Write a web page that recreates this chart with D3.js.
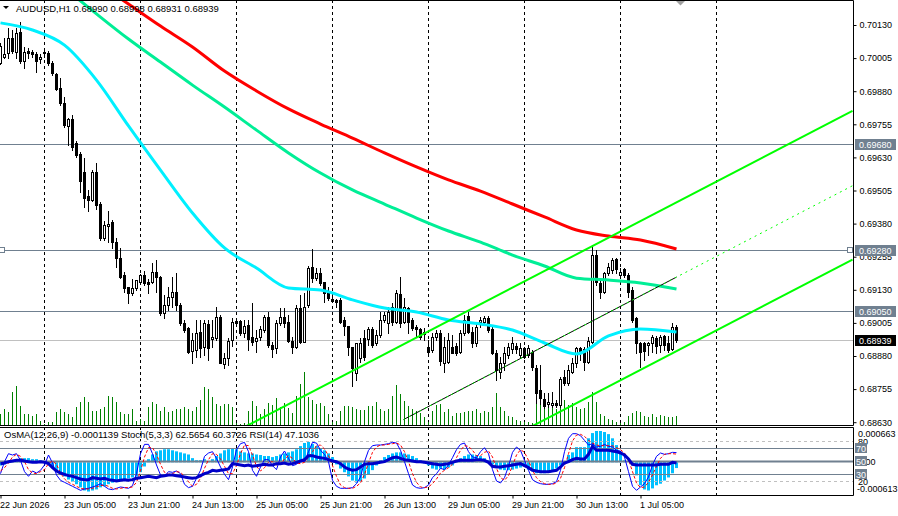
<!DOCTYPE html>
<html>
<head>
<meta charset="utf-8">
<script src="https://cdn.jsdelivr.net/npm/d3@7"></script>
<style>
  body { margin: 0; background: #fff; }
  svg text { font-family: "Liberation Sans", Arial, sans-serif; font-size: 9px; fill: #000; }
</style>
</head>
<body>
<div id="chart"></div>
<script>
// AUDUSD H1, prices in points (1e-5), bar 0 = 22 Jun 13:00
const ohlc = [
  [69987,70062,69983,70051],[70009,70081,70005,70020],[70024,70119,70005,70081],[70081,70111,70024,70032],
  [70028,70119,70005,70100],[70104,70141,69987,69994],[69994,70047,69968,70028],[70032,70043,70005,70024],
  [70028,70036,70009,70020],[70020,70028,69952,69994],[70002,70020,69987,70009],[70028,70043,70009,70024],
  [70024,70032,69979,69987],[69987,69994,69941,69949],[69945,69949,69885,69888],[69892,69930,69828,69836],
  [69836,69858,69745,69752],[69749,69779,69677,69775],[69775,69790,69658,69669],[69684,69692,69632,69639],
  [69643,69650,69499,69541],[69575,69628,69443,69477],[69484,69507,69428,69469],[69469,69582,69465,69575],
  [69575,69609,69435,69450],[69454,69462,69318,69326],[69326,69390,69318,69375],[69371,69428,69311,69379],
  [69386,69394,69288,69311],[69311,69326,69216,69250],[69250,69288,69174,69178],[69186,69197,69122,69137],
  [69141,69141,69080,69118],[69118,69171,69110,69137],[69137,69167,69129,69167],[69160,69190,69152,69186],
  [69186,69201,69148,69156],[69160,69171,69118,69152],[69160,69231,69156,69197],[69197,69243,69122,69178],
  [69178,69182,69035,69042],[69042,69110,69024,69073],[69073,69141,69054,69103],[69103,69178,69065,69122],
  [69122,69194,69054,69073],[69073,69080,68997,69005],[69005,69016,68971,68978],[68986,68990,68891,68895],
  [68899,68967,68854,68941],[68903,69016,68876,68967],[68971,69016,68876,68910],[68914,69016,68884,69005],
  [69001,69016,68865,68910],[68944,69016,68914,68952],[68948,69065,68941,69027],[69027,69035,68854,68854],
  [68850,68891,68835,68873],[68873,68948,68846,68937],[68941,69024,68918,69009],[69012,69020,69005,69005],
  [69012,69016,68960,68967],[68967,69016,68952,68993],[68997,69016,68903,68944],[68952,69080,68922,68933],
  [68937,68978,68895,68948],[68952,68993,68941,68982],[68978,69035,68971,69027],[69027,69046,68914,68922],
  [68922,68933,68876,68907],[68910,69016,68891,69005],[69005,69061,68997,69027],[69027,69061,68990,69005],
  [69009,69035,68933,68937],[68937,68952,68891,68914],[68914,69073,68910,69061],[69061,69110,68929,68933],
  [68933,69118,68933,69065],[69073,69220,69065,69212],[69216,69284,69160,69174],[69174,69212,69167,69194],
  [69194,69212,69148,69156],[69160,69160,69084,69118],[69126,69141,69092,69099],[69095,69103,69084,69088],
  [69092,69095,69065,69084],[69092,69099,69005,69009],[69016,69027,68960,68993],[68993,68993,68884,68914],
  [68914,68914,68767,68835],[68816,68929,68789,68929],[68873,68948,68857,68929],[68948,68978,68865,68876],
  [68944,68990,68922,68982],[68982,68990,68914,68922],[68929,68978,68922,68960],[68960,69046,68952,69016],
  [69016,69046,69009,69035],[69005,69065,68967,69046],[69065,69080,68997,69009],[69009,69129,69005,69118],
  [69114,69178,68990,69005],[69009,69099,69005,69065],[69061,69065,68967,69009],[69016,69024,68978,68986],
  [68990,68997,68952,68982],[68982,68986,68944,68952],[68971,68986,68941,68963],[68914,68941,68891,68895],
  [68903,68967,68895,68952],[68952,68978,68941,68967],[68967,68978,68846,68861],[68854,68952,68820,68914],
  [68857,68967,68854,68941],[68914,68960,68891,68891],[68918,68929,68884,68891],[68895,68978,68891,68967],
  [68967,69035,68960,69016],[69031,69046,68967,68971],[68971,68990,68914,68929],[68929,69005,68918,68990],
  [69009,69027,68990,69016],[69009,69031,69005,69024],[69024,69031,68971,68978],[68982,68990,68888,68891],
  [68891,68903,68789,68827],[68820,68876,68797,68854],[68854,68914,68827,68891],[68884,68929,68873,68914],
  [68907,68952,68891,68929],[68918,68929,68891,68907],[68884,68929,68873,68910],[68910,68914,68873,68876],
  [68884,68922,68876,68910],[68895,68903,68827,68839],[68835,68846,68703,68740],[68752,68846,68699,68721],
  [68718,68740,68684,68691],[68699,68740,68688,68707],[68695,68744,68688,68703],[68703,68714,68688,68695],
  [68695,68801,68688,68793],[68801,68827,68771,68778],[68778,68846,68771,68827],[68820,68873,68816,68854],
  [68854,68914,68839,68910],[68910,68914,68865,68891],[68907,68914,68827,68857],[68857,68952,68854,68937],
  [68933,69299,68929,69261],[69261,69280,69148,69160],[69156,69167,69099,69122],[69122,69197,69118,69194],
  [69194,69231,69186,69216],[69205,69250,69194,69243],[69246,69250,69194,69209],[69186,69212,69178,69197],
  [69209,69212,69178,69186],[69186,69194,69103,69122],[69129,69141,69009,69016],[69024,69027,68891,68929],
  [68929,68933,68839,68895],[68929,68933,68865,68899],[68922,68933,68884,68929],[68929,68960,68895,68952],
  [68948,68956,68891,68918],[68922,68960,68895,68952],[68956,68960,68903,68922],[68929,68956,68895,68903],
  [68907,69005,68903,68990],[68990,68998,68931,68939]
];

const volume = [
  110,160,130,330,390,190,110,110,90,110, 40,10,30,30,130,160,130,110,80,180,
  230,280,230,140,140,160,180,290,280,230, 130,110,110,160,40,60,40,180,230,210,
  140,180,130,140,160,160,180,160,140,180, 250,380,360,280,210,190,210,210,180,20,
  10,20,140,240,190,110,160,220,200,270, 180,220,170,120,290,410,530,280,250,210,
  220,190,110,30,40,140,190,190,180,160, 150,150,190,190,230,160,140,160,290,400,
  310,240,190,160,140,120,80,30,140,200, 210,130,160,90,120,120,130,140,140,160,
  120,140,130,180,320,180,140,90,80,50, 40,30,30,20,210,240,260,220,180,160,
  280,250,200,220,180,160,170,230,330,230, 110,90,60,50,30,20,30,90,120,140,
  130,90,80,110,80,100,90,80,80,90
];

// moving averages sampled every 8 bars
const maBars = [0,8,16,24,32,40,48,56,64,72,80,88,96,104,112,120,128,136,144,152,160,169];
const maCyan = [70138,70111,70054,69922,69749,69582,69420,69288,69212,69137,69129,69092,69061,69046,69016,69001,68978,68929,68888,68956,68982,68971];
const maGreen = [null,null,70270,70172,70077,69990,69903,69820,69733,69647,69571,69507,69454,69401,69352,69310,69261,69220,69174,69167,69156,69133];
const maRed = [null,null,null,70292,70209,70126,70047,69956,69881,69813,69756,69703,69647,69594,69545,69503,69454,69405,69356,69333,69318,69284];

// equidistant channel [bar, price]
const chanUpper = [[60, 68604], [213, 69806]];
const chanLower = [[130, 68592], [213, 69244]];
const chanMid = [[100.75, 68640], [169, 69178]];
const chanMidExt = [[169, 69178], [213, 69523]];

const hLevels = [69680, 69280, 69050];
const lastPrice = 68939;

const priceTicks = d3.range(68630, 70131, 125);
const timeBars = [0,16,32,48,64,80,96,112,128,144,160];
const timeLabels = ["22 Jun 2026","23 Jun 05:00","23 Jun 21:00","24 Jun 13:00","25 Jun 05:00","25 Jun 21:00",
                    "26 Jun 13:00","29 Jun 05:00","29 Jun 21:00","30 Jun 13:00","1 Jul 05:00"];
const dayBars = [11,35,59,83,107,131,155,179];

// OsMA in 1e-5 units
const osma = [
  -6,-4,0,4,6,8,8,8,6,6, 4,2,-4,-10,-15,-21,-27,-33,-37,-42,
  -48,-54,-56,-54,-52,-48,-46,-42,-39,-37, -35,-33,-31,-29,-27,-19,-8,6,15,21,
  23,25,25,23,21,19,17,15,8,4, 4,6,2,6,12,17,23,25,27,25,
  21,19,17,17,15,14,12,12,10,12, 15,17,19,21,25,31,37,39,35,31,
  27,23,17,10,-4,-12,-19,-27,-35,-39, -37,-31,-23,-15,-6,4,10,14,17,19,
  19,17,15,12,8,4,-2,-6,-12,-14, -12,-14,-10,-6,2,8,12,15,15,14,
  12,8,4,-4,-10,-14,-15,-15,-14,-12, -10,-8,-14,-17,-21,-21,-21,-19,-17,-12,
  -6,-2,14,19,29,29,29,46,56,60, 60,58,54,46,33,17,4,0,-6,-25,
  -44,-52,-54,-50,-44,-41,-35,-29,-21,-11
];
const stochMain = [
  31,49,61,59,61,51,34,27,35,32, 36,44,59,47,29,21,18,15,12,9,
  6,8,9,11,13,16,12,8,7,9, 11,10,9,13,31,61,75,75,61,44,
  29,27,34,33,35,31,15,10,12,24, 36,57,62,64,54,41,30,22,41,67,
  76,78,64,36,27,41,52,52,43,37, 56,65,54,43,45,51,49,64,78,77,
  66,60,49,21,12,9,9,9,10,16, 26,49,66,73,74,74,75,76,78,77,
  66,49,31,14,10,9,10,14,25,31, 39,37,44,55,67,75,77,64,56,55,
  64,70,61,37,20,17,25,42,63,71, 66,51,36,22,18,16,15,15,16,19,
  36,64,84,91,91,88,81,74,76,71, 72,75,72,71,66,65,56,34,12,6,
  11,16,26,44,57,62,60,61,63,62.57
];
const stochSignal = [
  35,40,47,56,60,57,49,37,32,31, 34,37,46,50,45,32,23,18,15,12,
  9,8,8,9,11,13,14,12,9,8, 9,10,10,11,18,35,56,70,70,60,
  45,33,30,31,34,33,27,19,12,15, 24,39,52,61,60,53,42,31,31,43,
  61,74,73,59,42,35,40,48,49,44, 45,53,58,54,47,46,48,55,64,73,
  74,68,58,43,27,14,10,9,9,12, 17,30,47,63,71,74,74,75,76,77,
  74,64,49,31,18,11,10,11,16,23, 32,36,40,45,55,66,73,72,66,58,
  58,63,65,56,39,25,21,28,43,59, 67,63,51,36,25,19,16,15,15,17,
  24,40,61,80,89,90,87,81,77,74, 73,73,73,73,70,67,62,52,34,17,
  10,11,18,29,42,54,60,61,61,60.37
];
const rsi = [
  46,47,49,50,51,51,50,49,48,48, 49,48,46,40,35,32,30,28,27,25,
  23,22,22,25,24,23,24,22,21,20, 21,22,21,22,24,25,26,27,26,25,
  27,28,29,29,28,27,26,25,24,25, 28,31,33,36,35,36,37,38,46,45,
  44,43,44,42,43,44,45,44,44,46, 46,47,45,46,48,50,52,58,58,56,
  55,54,52,50,49,46,41,38,36,37, 41,45,46,46,47,48,49,52,55,56,
  54,52,51,50,49,49,48,47,46,45, 44,45,46,48,50,51,51,51,51,52,
  52,51,48,42,41,41,42,43,44,45, 46,43,40,36,35,34,34,34,35,36,
  41,47,49,52,54,53,53,60,72,66, 66,66,66,65,64,62,59,53,45,44,
  44,44,44,44,44,45,45,45,48,47.1
];
const oscLevels = [80, 70, 50, 30, 20];

const width = 898, height = 516;
const plotR = 853, mainB = 425, indT = 427, indB = 495;
const slate = "#708090";

const svg = d3.select("#chart").append("svg")
  .attr("width", width).attr("height", height);
svg.append("rect").attr("width", width).attr("height", height).attr("fill", "#fff");

const x = d3.scaleLinear().domain([0, 213]).range([0.5, 852.5]);
const y = d3.scaleLinear().domain([68630, 70130]).range([422.2, 25]);
const yVol = d3.scaleLinear().domain([0, 600]).range([mainB, mainB - 60]);
const yOsc = d3.scaleLinear().domain([0, 100]).range([494.3, 427.7]);
const yOsma = d3.scaleLinear().domain([-61.3, 66.3]).range([494.3, 427.7]);
const crisp = v => Math.round(v) + 0.5;

const defs = svg.append("defs");
defs.append("clipPath").attr("id", "clipMain")
  .append("rect").attr("x", 0).attr("y", 0).attr("width", plotR).attr("height", mainB);
defs.append("clipPath").attr("id", "clipInd")
  .append("rect").attr("x", 0).attr("y", indT).attr("width", plotR).attr("height", indB - indT);

const main = svg.append("g").attr("clip-path", "url(#clipMain)");
const ind = svg.append("g").attr("clip-path", "url(#clipInd)");

// day separators
main.selectAll(".vgrid").data(dayBars).enter().append("line")
  .attr("x1", d => x(d)).attr("x2", d => x(d)).attr("y1", 0).attr("y2", mainB)
  .attr("stroke", "#000").attr("stroke-dasharray", "3,3");
ind.selectAll(".vgrid").data(dayBars).enter().append("line")
  .attr("x1", d => x(d)).attr("x2", d => x(d)).attr("y1", indT).attr("y2", indB)
  .attr("stroke", "#000").attr("stroke-dasharray", "3,3");

// horizontal levels
main.selectAll(".hline").data(hLevels).enter().append("line")
  .attr("x1", 0).attr("x2", plotR)
  .attr("y1", d => crisp(y(d))).attr("y2", d => crisp(y(d)))
  .attr("stroke", slate);
main.append("line")
  .attr("x1", 0).attr("x2", plotR)
  .attr("y1", crisp(y(lastPrice))).attr("y2", crisp(y(lastPrice)))
  .attr("stroke", "#c0c0c0");
// selection squares on the 0.69280 line
[2, 850].forEach(cx => {
  main.append("rect").attr("x", cx - 2.5).attr("y", crisp(y(69280)) - 3)
    .attr("width", 5).attr("height", 5).attr("fill", "#fff").attr("stroke", slate);
});

// volumes
main.selectAll(".vol").data(volume).enter().append("line")
  .attr("x1", (d, i) => x(i)).attr("x2", (d, i) => x(i))
  .attr("y1", mainB).attr("y2", d => yVol(d))
  .attr("stroke", "#008000");

// candles
const cg = main.append("g");
ohlc.forEach((d, i) => {
  const [o, h, l, c] = d;
  const cx = x(i);
  cg.append("line").attr("x1", cx).attr("x2", cx)
    .attr("y1", Math.round(y(h))).attr("y2", Math.round(y(l)) + 1)
    .attr("stroke", "#000");
  const top = Math.round(y(Math.max(o, c)));
  const bot = Math.round(y(Math.min(o, c)));
  if (c >= o) {
    cg.append("rect").attr("x", cx - 1).attr("y", top + 0.5)
      .attr("width", 2).attr("height", Math.max(bot - top, 1))
      .attr("fill", "#fff").attr("stroke", "#000");
  } else {
    cg.append("rect").attr("x", cx - 1.5).attr("y", top)
      .attr("width", 3).attr("height", Math.max(bot - top + 1, 1))
      .attr("fill", "#000");
  }
});

// moving averages
const maLine = d3.line()
  .defined(d => d[1] != null)
  .x(d => x(d[0])).y(d => y(d[1]))
  .curve(d3.curveMonotoneX);
[[maRed, "#ff0000"], [maGreen, "#00ee96"], [maCyan, "#00f0ff"]].forEach(([vals, col]) => {
  main.append("path")
    .datum(maBars.map((b, k) => [b, vals[k]]))
    .attr("d", maLine).attr("fill", "none")
    .attr("stroke", col).attr("stroke-width", 3);
});

// channel
const straight = d3.line().x(d => x(d[0])).y(d => y(d[1]));
[chanUpper, chanLower].forEach(seg => {
  main.append("path").datum(seg).attr("d", straight)
    .attr("stroke", "#00ff00").attr("stroke-width", 2).attr("fill", "none");
});
main.append("path").datum(chanMid).attr("d", straight)
  .attr("stroke", "#000").attr("stroke-width", 1).attr("fill", "none");
main.append("path").datum(chanMid.concat(chanMidExt.slice(1))).attr("d", straight)
  .attr("stroke", "#00ff00").attr("stroke-width", 1).attr("stroke-dasharray", "2,4").attr("fill", "none");

// indicator panel
ind.selectAll(".osma").data(osma).enter().append("rect")
  .attr("x", (d, i) => x(i) - 1.5).attr("width", 3)
  .attr("y", d => Math.min(yOsma(d), yOsma(0)))
  .attr("height", d => Math.abs(yOsma(d) - yOsma(0)))
  .attr("fill", "#00bfff");

ind.selectAll(".lvl").data(oscLevels).enter().append("line")
  .attr("x1", 0).attr("x2", plotR)
  .attr("y1", d => crisp(yOsc(d))).attr("y2", d => crisp(yOsc(d)))
  .attr("stroke", d => (d === 80 || d === 20) ? "#c0c0c0" : slate)
  .attr("stroke-width", d => d === 50 ? 2 : 1)
  .attr("stroke-dasharray", d => (d === 80 || d === 20) ? "3,3" : null);

const oscLine = d3.line().x((d, i) => x(i)).y(d => yOsc(d));
ind.append("path").datum(stochMain).attr("d", oscLine)
  .attr("fill", "none").attr("stroke", "#0000ff").attr("stroke-width", 1);
ind.append("path").datum(stochSignal).attr("d", oscLine)
  .attr("fill", "none").attr("stroke", "#ff0000").attr("stroke-width", 1).attr("stroke-dasharray", "3,2");
ind.append("path").datum(rsi).attr("d", oscLine)
  .attr("fill", "none").attr("stroke", "#0000c8").attr("stroke-width", 3);

// frames
svg.append("path")
  .attr("d", `M0,0.5H${plotR + 0.5}V${mainB + 0.5}H0`)
  .attr("fill", "none").attr("stroke", "#000");
svg.append("path")
  .attr("d", `M0,${indT + 0.5}H${plotR + 0.5}V${indB + 0.5}H0`)
  .attr("fill", "none").attr("stroke", "#000");

// price axis
const pAxis = svg.append("g").attr("transform", `translate(${plotR + 0.5},0)`)
  .call(d3.axisRight(y).tickValues(priceTicks).tickSize(3).tickPadding(3)
    .tickFormat(d => (d / 1e5).toFixed(5)));
pAxis.select(".domain").remove();
pAxis.selectAll("text").style("font-size", "9px");

function tag(val, yy, bg, fg) {
  const g = svg.append("g");
  g.append("rect").attr("x", 855).attr("y", Math.round(yy) - 5)
    .attr("width", 41).attr("height", 11).attr("fill", bg);
  g.append("text").attr("x", 859).attr("y", Math.round(yy) + 3.5)
    .style("fill", fg).text(val);
}
hLevels.forEach(v => tag((v / 1e5).toFixed(5), y(v), slate, "#fff"));
tag((lastPrice / 1e5).toFixed(5), y(lastPrice), "#000", "#fff");

// indicator scale labels
svg.append("text").attr("x", 858).attr("y", 437).text("0.000663");
svg.append("text").attr("x", 858).attr("y", 445).text("80");
svg.append("text").attr("x", 858).attr("y", 485).text("20");
svg.append("text").attr("x", 857).attr("y", 492).text("-0.000613");
svg.append("text").attr("x", 858).attr("y", yOsc(50) + 3.5).text("0.00");
[70, 50, 30].forEach(v => {
  svg.append("rect").attr("x", 855).attr("y", Math.round(yOsc(v)) - 5)
    .attr("width", 12).attr("height", 10).attr("fill", slate);
  svg.append("text").attr("x", 856).attr("y", Math.round(yOsc(v)) + 3.5)
    .style("fill", "#fff").text(v);
});

// time axis
const tAxis = svg.append("g").attr("transform", `translate(0,${indB + 0.5})`)
  .call(d3.axisBottom(x).tickValues(timeBars).tickSize(3).tickPadding(3)
    .tickFormat((d, k) => timeLabels[k]));
tAxis.select(".domain").remove();
tAxis.selectAll("text").attr("text-anchor", "start").attr("x", -1).style("font-size", "9px");

// headers
svg.append("path").attr("d", "M3,6H9L6,9Z").attr("fill", "#000");
svg.append("text").attr("x", 16).attr("y", 12).style("font-size", "9.5px")
  .text("AUDUSD,H1  0.68990 0.68998 0.68931 0.68939");
svg.append("text").attr("x", 4).attr("y", 438).style("font-size", "9.5px")
  .text("OsMA(12,26,9) -0.0001139  Stoch(5,3,3) 62.5654 60.3726  RSI(14) 47.1036");
// chart shift marker
svg.append("path").attr("d", "M676,1H685L680.5,5.5Z").attr("fill", "#a0a0a0");
</script>
</body>
</html>
